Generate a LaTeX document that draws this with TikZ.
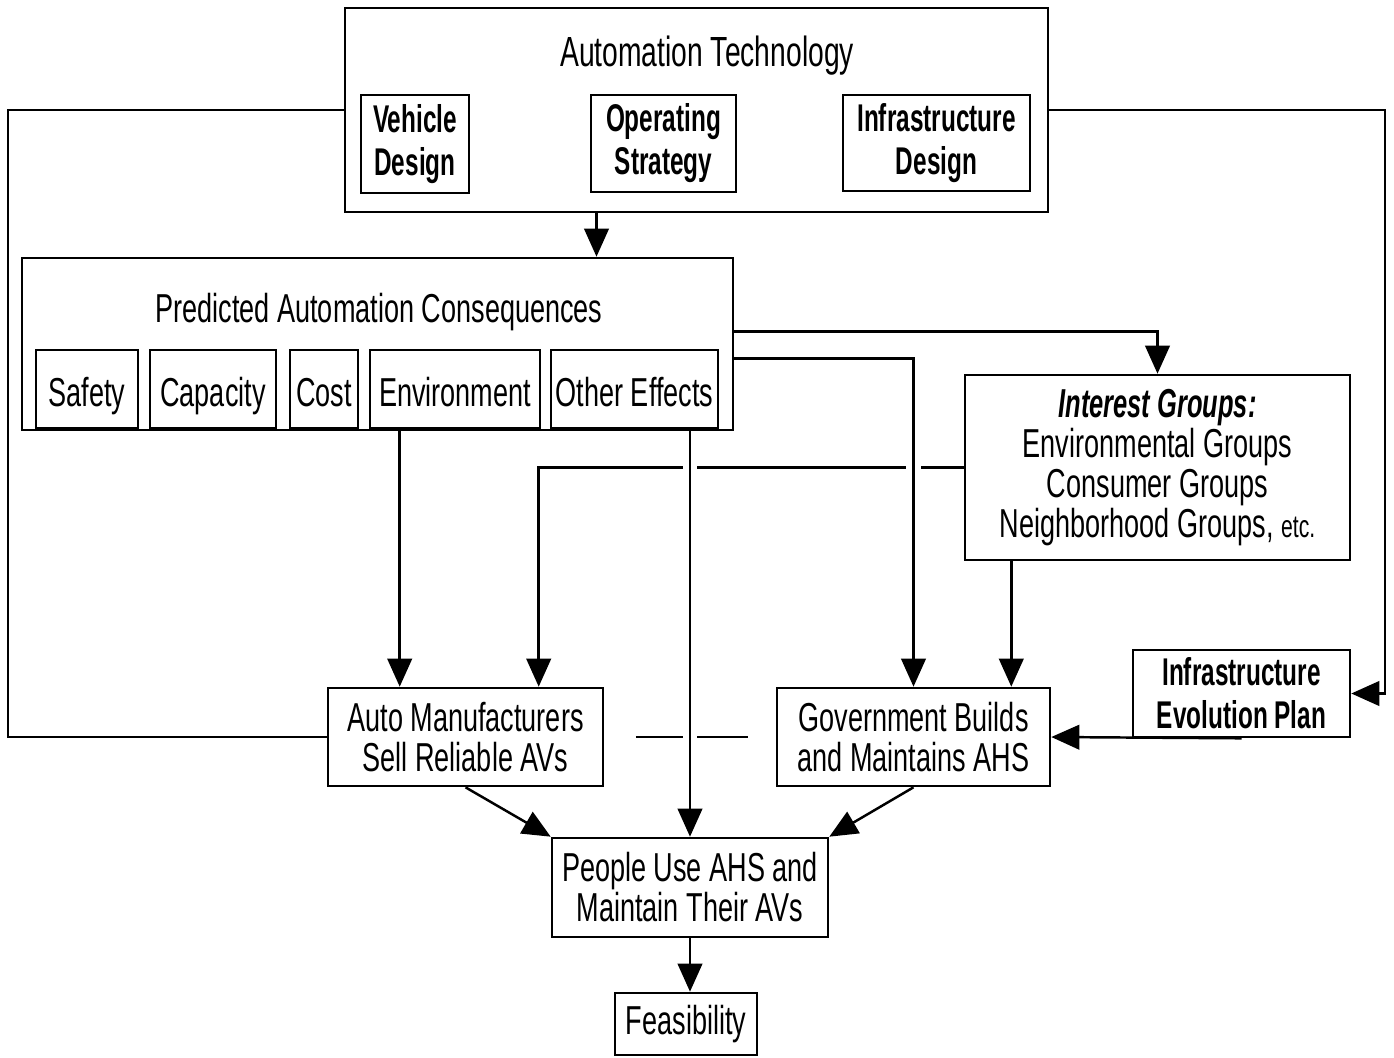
\documentclass[tikz,border=0pt]{standalone}
\usepackage{fontspec}
\setmainfont{Liberation Sans}[FakeStretch=0.67]
\newfontfamily\condfont{Liberation Sans}[FakeStretch=0.63]
\usetikzlibrary{arrows.meta,calc}

\begin{document}
\begin{tikzpicture}[x=0.02cm,y=-0.02cm,>={Triangle[length=16pt,width=14pt]},
  box/.style={draw,line width=1.5pt,inner sep=0pt,align=center,
    font=\fontsize{23}{22.8}\selectfont},
  subbox/.style={draw,line width=1.5pt,inner sep=0pt,align=center,
    font=\condfont\bfseries\fontsize{22}{24.5}\selectfont},
  cell/.style={box,minimum height=1.56cm,text height=20pt,text depth=0pt},
  link/.style={line width=1.4pt},
  hop/.style={preaction={draw,-,white,line width=8pt,shorten <=10pt,shorten >=22pt}}]
\useasboundingbox (0,0) rectangle (1394,1058);

% automation technology
\node[box,minimum width=14.06cm,minimum height=4.08cm] (tech) at (696.5,110) {};
\node[anchor=base,font=\fontsize{24}{22.8}\selectfont] (techlbl) at (707,66) {Automation Technology};
\node[subbox,minimum width=2.16cm,minimum height=1.96cm] (veh) at (415,144) {Vehicle\\Design};
\node[subbox,minimum width=2.9cm,minimum height=1.94cm] (ops) at (663.5,143.5) {Operating\\Strategy};
\node[subbox,minimum width=3.74cm,minimum height=1.92cm] (infd) at (936.5,143) {Infrastructure\\Design};

% predicted consequences
\node[box,minimum width=14.22cm,minimum height=3.44cm] (pred) at (377.5,344) {};
\node[anchor=base,font=\fontsize{23}{22.8}\selectfont] (predlbl) at (379,322) {Predicted Automation Consequences};
\node[cell,minimum width=2.04cm] (saf) at (87,389) {Safety};
\node[cell,minimum width=2.52cm] (cap) at (213,389) {Capacity};
\node[cell,minimum width=1.36cm] (cst) at (324,389) {Cost};
\node[cell,minimum width=3.4cm] (env) at (455,389) {Environment};
\node[cell,minimum width=3.34cm] (oth) at (634.5,389) {Other Effects};

% actors
\node[box,minimum width=7.7cm,minimum height=3.7cm] (grp) at (1157.5,467.5)
  {{\condfont\bfseries\itshape\fontsize{23}{22.8}\selectfont Interest Groups:}\\
   Environmental Groups\\Consumer Groups\\
   Neighborhood Groups, {\fontsize{18}{22.8}\selectfont etc.}};
\node[box,minimum width=5.5cm,minimum height=1.96cm] (auto) at (465.5,737) {Auto Manufacturers\\Sell Reliable AVs};
\node[box,minimum width=5.46cm,minimum height=1.96cm] (gov) at (913.5,737) {Government Builds\\and Maintains AHS};
\node[subbox,minimum width=4.34cm,minimum height=1.74cm] (plan) at (1241.5,693.5) {Infrastructure\\Evolution Plan};
\node[box,minimum width=5.52cm,minimum height=1.98cm] (ppl) at (690,887.5) {People Use AHS and\\Maintain Their AVs};
\node[box,minimum width=2.84cm,minimum height=1.24cm] (feas) at (686,1024) {Feasibility};

\coordinate (t1) at ([shift={(-100,0)}]tech.south);
\coordinate (lft) at (8,0);
\coordinate (rgt) at (1385,0);
\coordinate (pa) at ([shift={(0,75)}]pred.north east);
\coordinate (pb) at ([shift={(0,102)}]pred.north east);
\coordinate (a1) at ([shift={(73,0)}]auto.north west);
\coordinate (a2) at ([shift={(212,0)}]auto.north west);
\coordinate (g2) at ([shift={(-40,0)}]gov.north east);

\draw[link,->] (t1) -- (t1 |- pred.north);
\draw[link] (tech.west) -| (lft |- auto.west) -- (auto.west);
\draw[link,->] (tech.east) -| (rgt |- plan.east) -- (plan.east);
\draw[link,->] (pa) -| (grp.north);
\draw[link,->] (env.south -| a1) -- (a1);
\draw[link,->] (grp.west) -| (a2);
\draw[link,shorten <=18pt,shorten >=16pt] (auto.east) -- (gov.west);
\draw[link,->,hop] (oth.south -| ppl.north) -- (ppl.north);
\draw[link,->,hop] (pb) -| (gov.north);
\draw[link,->] (grp.south -| g2) -- (g2);
\draw[link,->] (plan.south) -- (gov.east);
\draw[link,->] (auto.south) -- (ppl.north west);
\draw[link,->] (gov.south) -- (ppl.north east);
\draw[link,->] (ppl.south) -- (ppl.south |- feas.north);
\end{tikzpicture}
\end{document}
